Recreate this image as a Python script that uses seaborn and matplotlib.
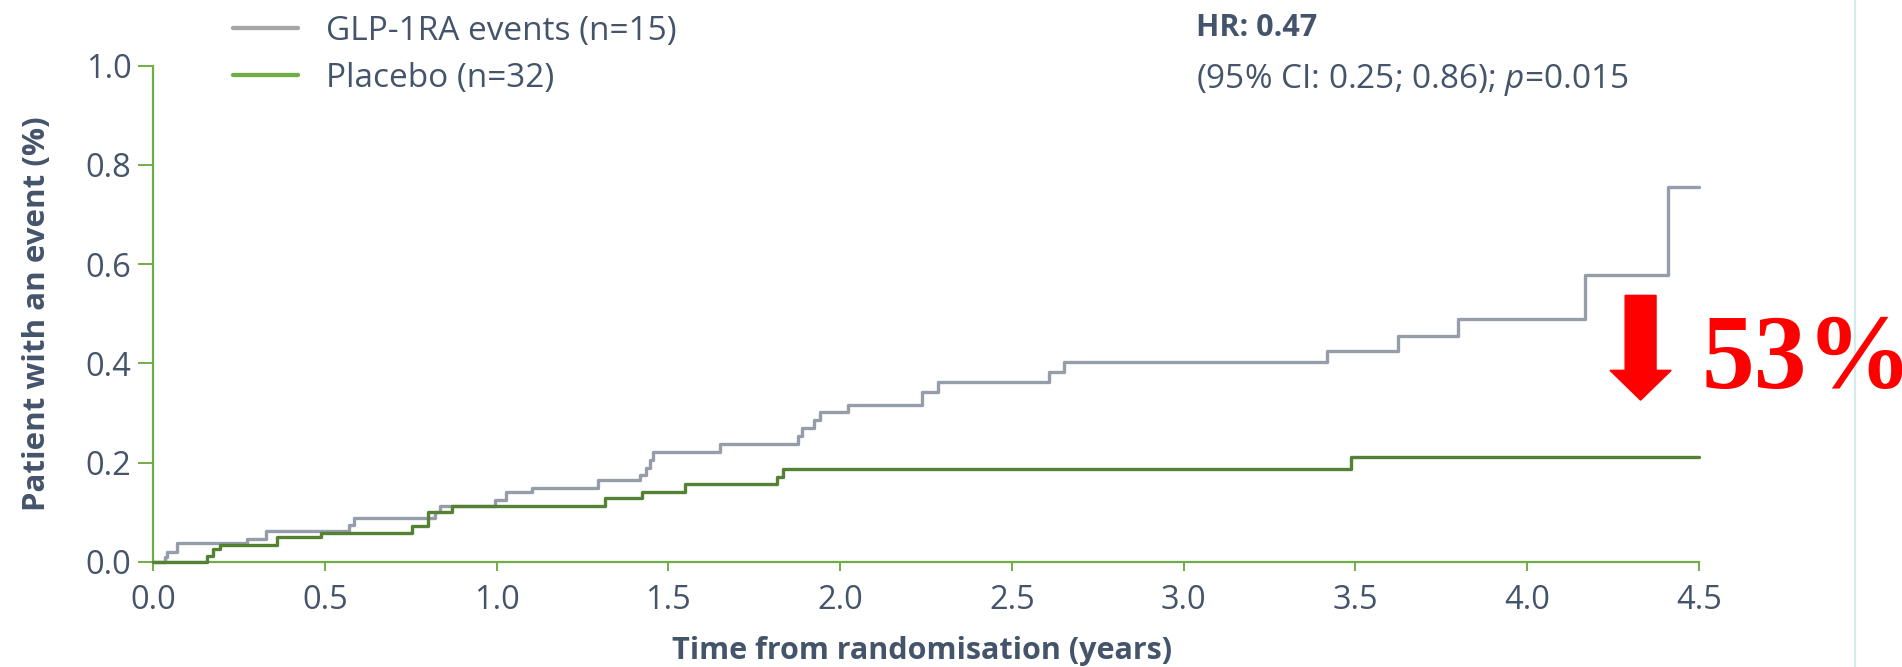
import matplotlib
matplotlib.use("Agg")
import matplotlib.pyplot as plt
from matplotlib.lines import Line2D
import seaborn as sns
import pandas as pd

# ---- data ----
glp_time = [0.0, 0.035, 0.042, 0.069, 0.273, 0.33, 0.57, 0.585, 0.82, 0.835, 0.995, 1.027,
            1.104, 1.296, 1.417, 1.434, 1.446, 1.455, 1.65, 1.878, 1.888, 1.925, 1.941, 2.024,
            2.237, 2.286, 2.609, 2.651, 3.416, 3.624, 3.798, 4.167, 4.411, 4.5]
glp_value = [0.0, 0.011, 0.021, 0.038, 0.047, 0.062, 0.074, 0.088, 0.100, 0.112, 0.124, 0.140,
             0.149, 0.165, 0.176, 0.190, 0.205, 0.222, 0.237, 0.253, 0.270, 0.287, 0.303, 0.317,
             0.343, 0.362, 0.383, 0.403, 0.425, 0.455, 0.490, 0.578, 0.755, 0.755]
pbo_time = [0.0, 0.156, 0.174, 0.195, 0.36, 0.49, 0.753, 0.80, 0.869, 1.315, 1.422, 1.548,
            1.815, 1.833, 3.486, 4.5]
pbo_value = [0.0, 0.012, 0.027, 0.035, 0.051, 0.058, 0.073, 0.100, 0.112, 0.128, 0.140, 0.157,
             0.171, 0.187, 0.211, 0.211]
legend_labels = ["GLP-1RA events (n=15)", "Placebo (n=32)"]
x_ticks = [0.0, 0.5, 1.0, 1.5, 2.0, 2.5, 3.0, 3.5, 4.0, 4.5]
y_ticks = [0.0, 0.2, 0.4, 0.6, 0.8, 1.0]
hr_line1 = "HR: 0.47"
hr_line2 = "(95% CI: 0.25; 0.86); $p$=0.015"
reduction_label = "53%"

# ---- style ----
sns.set_theme(style="white")
plt.rcParams["font.family"] = ["Open Sans", "DejaVu Sans"]
plt.rcParams["mathtext.fontset"] = "custom"
plt.rcParams["mathtext.rm"] = "Open Sans"
plt.rcParams["mathtext.it"] = "Open Sans:italic"

TEXT = "#44546a"
AXIS_GREEN = "#70ad47"
GLP_GRAY = "#959caa"
PBO_GREEN = "#548235"
LEG_GRAY = "#a6a6a6"

W, H = 1902, 667
fig = plt.figure(figsize=(W / 100, H / 100), dpi=100)
fig.patch.set_facecolor("white")
x0, x1, y0, y1 = 153, 1699, 562, 65.5
ax = fig.add_axes([x0 / W, 1 - y0 / H, (x1 - x0) / W, (y0 - y1) / H])

df_glp = pd.DataFrame({"t": glp_time, "v": glp_value})
df_pbo = pd.DataFrame({"t": pbo_time, "v": pbo_value})
sns.lineplot(data=df_glp, x="t", y="v", ax=ax, drawstyle="steps-post", color=GLP_GRAY,
             lw=2.4, estimator=None, sort=False, clip_on=False, zorder=3)
sns.lineplot(data=df_pbo, x="t", y="v", ax=ax, drawstyle="steps-post", color=PBO_GREEN,
             lw=2.4, estimator=None, sort=False, clip_on=False, zorder=4)

ax.set_xlim(0, 4.5)
ax.set_ylim(0, 1.0)
ax.set_xticks(x_ticks)
ax.set_yticks(y_ticks)
ax.set_xticklabels([f"{v:.1f}" for v in x_ticks])
ax.set_yticklabels([f"{v:.1f}" for v in y_ticks])
for s in ["top", "right"]:
    ax.spines[s].set_visible(False)
for s in ["left", "bottom"]:
    ax.spines[s].set_color(AXIS_GREEN)
    ax.spines[s].set_linewidth(1.6)
ax.tick_params(axis="x", which="major", direction="out", length=6.5, width=1.4,
               color=AXIS_GREEN, labelcolor=TEXT, labelsize=23.5, pad=9, bottom=True)
ax.tick_params(axis="y", which="major", direction="out", length=10.5, width=1.4,
               color=AXIS_GREEN, labelcolor=TEXT, labelsize=23.5, pad=5, left=True)

ax.set_xlabel("Time from randomisation (years)", fontsize=22, fontweight="bold", color=TEXT)
ax.set_ylabel("Patient with an event (%)", fontsize=22.5, fontweight="bold", color=TEXT)
ax.xaxis.label.set_va("center")
ax.yaxis.label.set_va("center")
ax.xaxis.set_label_coords((922 - x0) / (x1 - x0), -(651 - y0) / (y0 - y1))
ax.yaxis.set_label_coords((37 - x0) / (x1 - x0), 0.5)

# legend
handles = [Line2D([], [], color=LEG_GRAY, lw=3.1), Line2D([], [], color=AXIS_GREEN, lw=3.1)]
ax.legend(handles, legend_labels, loc="center left", bbox_to_anchor=(233 / W, 1 - 55 / H),
          bbox_transform=fig.transFigure, frameon=False, fontsize=24, labelcolor=TEXT,
          handlelength=1.95, handletextpad=0.84, labelspacing=0.42, borderpad=0,
          borderaxespad=0)

# HR annotation
fig.text(1196 / W, 1 - 36 / H, hr_line1, fontsize=22, fontweight="bold", color=TEXT,
         va="baseline", ha="left")
fig.text(1196 / W, 1 - 88 / H, hr_line2, fontsize=24, color=TEXT, va="baseline", ha="left")

# red arrow and reduction label
ax.arrow(4.33, 0.537, 0, -(0.537 - 0.326), width=0.09, head_width=0.178, head_length=0.06,
         length_includes_head=True, color="#ff0000", clip_on=False, zorder=5)
fig.text(1701 / W, 1 - 388 / H, reduction_label, fontsize=76, fontweight="bold",
         family="Liberation Serif", color="#ff0000", va="baseline", ha="left")

# thin vertical separator on the right
fig.add_artist(Line2D([1855 / W, 1855 / W], [0, 1], transform=fig.transFigure,
                      color="#d4ebeb", lw=1.6))

fig.savefig("out.png", dpi=100, facecolor="white")
